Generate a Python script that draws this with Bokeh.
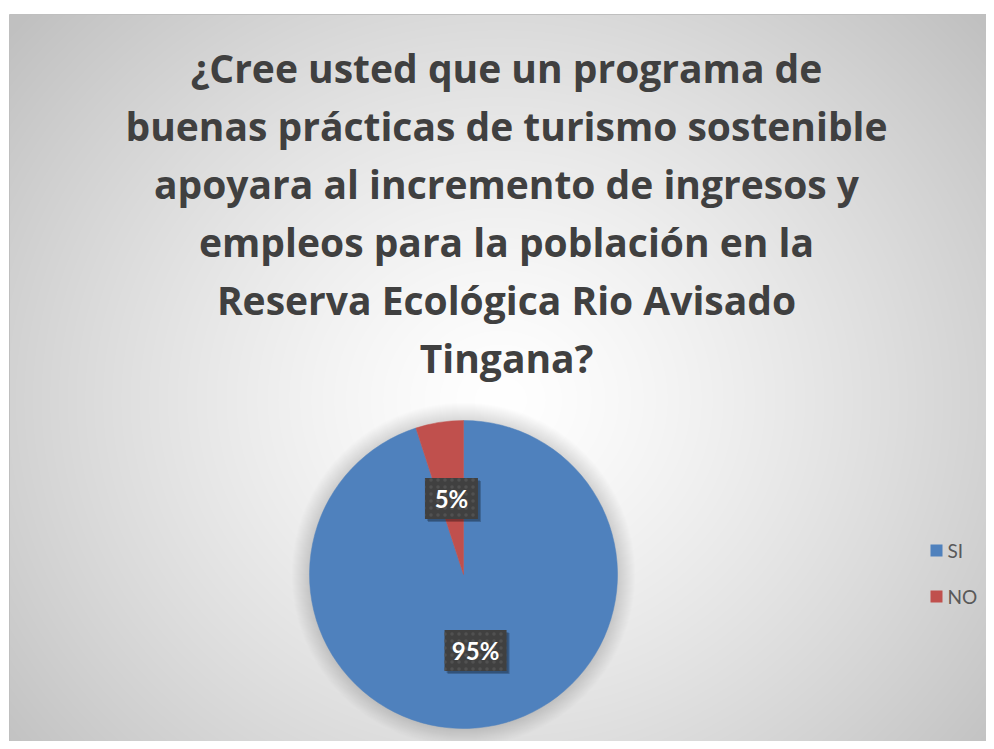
import numpy as np
from bokeh.plotting import figure
from bokeh.models import Range1d, ColumnDataSource
from bokeh.core.properties import value
from bokeh.embed import file_html
from bokeh.resources import INLINE

# ---- data ----
categories = ["SI", "NO"]
values = [95, 5]
colors = ["#4F81BD", "#C0504D"]
title_lines = [
    "¿Cree usted que un programa de",
    "buenas prácticas de turismo sostenible",
    "apoyara al incremento de ingresos y",
    "empleos para la población en la",
    "Reserva Ecológica Rio Avisado",
    "Tingana?",
]

W, H = 986, 741
p = figure(width=W, height=H, output_backend="svg", toolbar_location=None,
           x_range=Range1d(0, W), y_range=Range1d(0, H),
           x_axis_type=None, y_axis_type=None, min_border=0)
p.grid.visible = False
p.outline_line_color = None
p.background_fill_color = "white"
p.border_fill_color = "white"

# ---- background radial gradient of chart area ----
ax0, ay0, aw, ah = 9, 0, W - 9, 727
xs = np.arange(aw) + ax0
ys = np.arange(ah) + ay0
X, Y = np.meshgrid(xs, ys)
cx, cy = 500, 341
d = np.sqrt((X - cx) ** 2 + ((Y - cy) * 1.1) ** 2) / 640.0
v = 255 - 63 * np.clip(d, 0, 1) ** 1.3
v = v.astype(np.uint32)
img = ((255 << 24) | (v << 16) | (v << 8) | v).astype(np.uint32)
p.image_rgba(image=[img], x=ax0, y=ay0, dw=aw, dh=ah)
p.segment(x0=[9, 9], y0=[727, 727], x1=[W, 9], y1=[727, 0], line_color="#bfbfbf", line_width=1)

# ---- title ----
tx = 506
tb0 = 674
for i, line in enumerate(title_lines):
    p.text(x=[tx], y=[tb0 - 58 * i], text=[line], text_align="center",
           text_baseline="alphabetic", text_font=value("Open Sans"), text_font_style="bold",
           text_font_size="39px", text_color="#404040")

# ---- pie ----
pcx, pcy, r = 463, 167, 154
for k in range(1, 19):
    p.circle(x=[pcx], y=[pcy], radius=r + k, fill_color="black", fill_alpha=0.008, line_color=None)

total = float(sum(values))
fr = np.array(values) / total
cum = np.concatenate([[0], np.cumsum(fr)])
start = np.pi / 2 - 2 * np.pi * cum[:-1]
end = np.pi / 2 - 2 * np.pi * cum[1:]
src = ColumnDataSource(dict(start=start, end=end, color=colors, cat=categories))
p.wedge(x=pcx, y=pcy, radius=r, start_angle="start", end_angle="end", direction="clock",
        fill_color="color", line_color="color", line_width=0.5, source=src)

# ---- data labels ----
mid = (start + end) / 2
lx = pcx + 0.5 * r * np.cos(mid)
ly = pcy + 0.5 * r * np.sin(mid)
labels = [f"{int(round(f * 100))}%" for f in fr]
bw = [35 + 9 * len(s) for s in labels]
p.rect(x=lx + 3, y=ly - 3, width=bw, height=41, fill_color="black", fill_alpha=0.22, line_color=None)
p.rect(x=lx + 2, y=ly - 2, width=bw, height=41, fill_color="black", fill_alpha=0.18, line_color=None)
p.rect(x=lx, y=ly, width=bw, height=41, fill_color="#404040", line_color=None,
       hatch_pattern="dot", hatch_color="#515151", hatch_scale=7, hatch_weight=1.5)
p.text(x=lx, y=ly, text=labels, text_align="center", text_baseline="middle",
       text_font=value("Lato"), text_font_style="bold", text_font_size="24px", text_color="white")

# ---- legend ----
lgx, lgy0, lgstep = 936, 191, 46
for i, (c, col) in enumerate(zip(categories, colors)):
    yy = lgy0 - lgstep * i
    p.rect(x=[lgx], y=[yy], width=12, height=12, fill_color=col, line_color=None)
    p.text(x=[lgx + 11], y=[yy], text=[c], text_align="left", text_baseline="middle",
           text_font=value("Lato"), text_font_size="19px", text_color="#595959")

open("out.html", "w").write(file_html(p, INLINE))
